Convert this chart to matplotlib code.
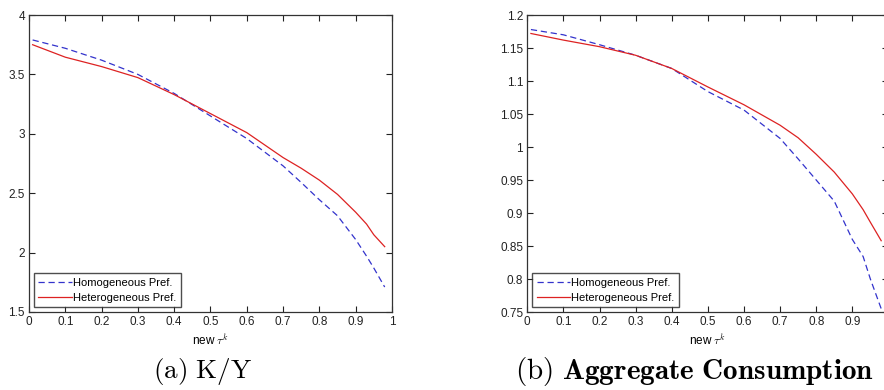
import numpy as np
import matplotlib
matplotlib.use('Agg')
import matplotlib.pyplot as plt

plt.rcParams['font.family'] = 'Liberation Sans'
plt.rcParams['mathtext.fontset'] = 'cm'

# tax rate grid
tau = [0.01, 0.1, 0.2, 0.3, 0.4, 0.5, 0.6, 0.7, 0.75, 0.8, 0.85, 0.9, 0.93, 0.95, 0.98]

# capital-output ratio
ky_homo = [3.79, 3.72, 3.62, 3.50, 3.34, 3.15, 2.96, 2.73, 2.59, 2.445, 2.31, 2.11, 1.97, 1.87, 1.71]
ky_hetero = [3.75, 3.645, 3.566, 3.473, 3.33, 3.17, 3.01, 2.80, 2.71, 2.61, 2.49, 2.34, 2.24, 2.15, 2.05]

# aggregate consumption
c_homo = [1.178, 1.170, 1.155, 1.139, 1.119, 1.084, 1.056, 1.013, 0.982, 0.950, 0.918, 0.860, 0.834, 0.80, 0.755]
c_hetero = [1.172, 1.162, 1.152, 1.139, 1.119, 1.091, 1.064, 1.033, 1.014, 0.989, 0.962, 0.929, 0.905, 0.886, 0.858]

xlabels = ['0', '0.1', '0.2', '0.3', '0.4', '0.5', '0.6', '0.7', '0.8', '0.9', '1']

fig = plt.figure(figsize=(8.84, 3.9), dpi=100)
ax1 = fig.add_axes([0.0328, 0.2, 0.4106, 0.7615])
ax2 = fig.add_axes([0.5965, 0.2, 0.4085, 0.7615])


def style(ax, ylim, yticks, ylabels, xlabs):
    ax.set_xlim(0, 1)
    ax.set_ylim(*ylim)
    ax.set_xticks(np.arange(0, 1.01, 0.1))
    ax.set_xticklabels(xlabs)
    ax.set_yticks(yticks)
    ax.set_yticklabels(ylabels)
    ax.tick_params(direction='in', length=4, width=0.8, labelsize=8.5,
                   top=True, right=True, colors='#222222', pad=3)
    for s in ax.spines.values():
        s.set_color('#333333')
        s.set_linewidth(0.9)
    ax.set_xlabel(r'new $\tau^k$', fontsize=8.5, labelpad=4)
    ax.legend(loc='lower left', fontsize=8, frameon=True, fancybox=False,
              edgecolor='#222222', handlelength=3.0, handletextpad=0.1,
              borderpad=0.4, labelspacing=0.45, borderaxespad=0.45)


ax1.plot(tau, ky_homo, '--', color='#3333cc', lw=0.9, dashes=(5, 3), label='Homogeneous Pref.')
ax1.plot(tau, ky_hetero, '-', color='#dd2222', lw=0.9, label='Heterogeneous Pref.')
style(ax1, (1.5, 4), [1.5, 2, 2.5, 3, 3.5, 4], ['1.5', '2', '2.5', '3', '3.5', '4'], xlabels)

ax2.plot(tau, c_homo, '--', color='#3333cc', lw=0.9, dashes=(5, 3), label='Homogeneous Pref.')
ax2.plot(tau, c_hetero, '-', color='#dd2222', lw=0.9, label='Heterogeneous Pref.')
style(ax2, (0.75, 1.2), np.arange(0.75, 1.201, 0.05),
      ['0.75', '0.8', '0.85', '0.9', '0.95', '1', '1.05', '1.1', '1.15', '1.2'],
      xlabels[:-1] + [''])

fig.text(0.229, 0.048, r'$\mathrm{(a)\ K/Y}$', ha='center', va='center', fontsize=19.5)
fig.text(0.786, 0.048, r'$\mathrm{(b)}\ \mathbf{Aggregate\ Consumption}$',
         ha='center', va='center', fontsize=21)

fig.savefig('out.png', dpi=100)
